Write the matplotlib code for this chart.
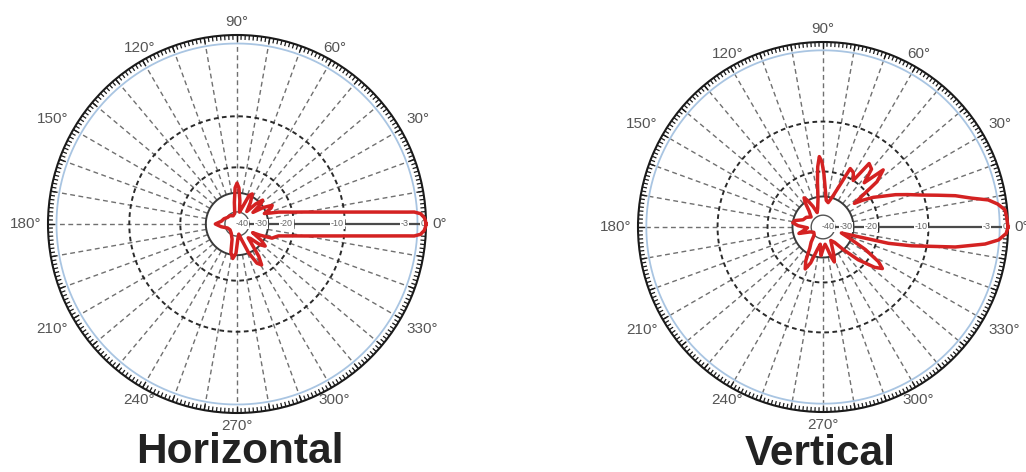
import numpy as np
import matplotlib
matplotlib.use("Agg")
import matplotlib.pyplot as plt

# ---------------- data (angles in degrees, levels in dB) ----------------
h_angles = [0, 1, 2, 3.2, 3.86, 4, 5, 6, 7, 8, 10, 12, 14, 16, 18,
            21, 25, 28, 32, 36, 40, 43, 47, 52, 58, 63, 67, 72, 78, 83, 87, 90, 93, 97, 102,
            115, 130, 145, 158, 170, 180, 190, 203, 220, 238, 252, 258, 263, 268, 274,
            280, 286, 292, 297, 301, 304, 309, 313, 318, 322, 326, 331, 334, 338, 341,
            344, 346, 348, 350, 352, 353, 354, 355, 356, 356.14, 356.8, 358, 359, 360]
h_db = [0, -0.1, -0.3, -0.9, -2.0, -3.15, -6.8, -9.3, -11.9, -14.3, -17.6, -19.9, -22.9, -25.3, -28.2,
        -31, -27.5, -26.6, -30, -36, -30, -28.5, -32, -38, -33, -29, -30, -37, -40, -34, -28, -26.2, -28, -35, -42,
        -45, -42, -41, -39, -38, -35, -38, -43, -45, -42, -38, -31, -28.6, -31, -39,
        -43, -38, -30, -25, -23.5, -27, -37, -36, -30, -28.2, -31, -37, -33, -27.4, -26.5,
        -25.3, -22.9, -19.9, -17.6, -14.3, -11.9, -9.3, -6.8, -3.15, -2.0, -0.9, -0.3, -0.1, 0]

v_angles = [0, 3, 5.4, 7.5, 9.3, 11, 13.3, 15.5, 18, 21, 24, 27, 30.5, 34, 37,
            40, 43.5, 47, 50, 54, 57, 61, 65, 68, 72, 78, 83, 86, 89, 91, 93, 95, 97, 100,
            106, 112, 116, 120, 123, 126, 131, 140, 150, 160, 167, 172, 177, 183, 190, 195,
            201, 210, 222, 232, 238, 243, 247, 251, 256, 261, 266, 271, 277, 282, 285, 288,
            291, 295, 300, 307, 312, 317, 322, 325, 328, 332, 337, 342,
            346, 348, 351.4, 354, 355.8, 358, 360]
v_db = [0, -0.2, -0.4, -1.6, -3.1, -4.9, -6.6, -8.5, -10.4, -13, -15.2, -17.5, -19.4, -23, -26.5,
        -17, -14.5, -19, -16, -15.4, -20, -18.6, -18.2, -24, -29, -33, -32, -28, -21, -18, -17, -19, -24, -31,
        -36, -38, -34, -30, -28.3, -30, -35, -38, -36, -35, -31, -30, -33, -38, -36, -33,
        -39, -42, -40, -36, -33, -27, -24, -27, -34, -37, -31, -35, -37, -34, -30, -27.5,
        -30, -35, -38, -36, -30, -23, -18, -16.6, -18, -23, -31, -36,
        -17.6, -13, -6.85, -3.6, -1.6, -0.3, 0]

angle_ticks = [0, 30, 60, 90, 120, 150, 180, 210, 240, 270, 300, 330]
angle_labels = ["0°", "30°", "60°", "90°", "120°", "150°", "180°",
                "210°", "240°", "270°", "300°", "330°"]
radial_labels = [-40, -30, -20, -10, -3, 0]
dashed_rings = [-10, -20]
solid_ring = -30
inner_ring = -40
ref_ring = -1.5

# radial scale of the chart (dB -> fraction of radius)
DB_KNOTS = [-60, -40, -30, -20, -10, -3, 0]
R_KNOTS = [0.0, 0.064, 0.165, 0.30, 0.57, 0.91, 1.0]


def fwd(d):
    return np.interp(d, DB_KNOTS, R_KNOTS)


def inv(r):
    return np.interp(r, R_KNOTS, DB_KNOTS)


RED = "#d42222"
BLUE = "#a9c5e2"
LABEL = "#555555"

plt.rcParams["font.family"] = ["Liberation Sans", "DejaVu Sans"]
fig = plt.figure(figsize=(10.26, 4.72), dpi=100)
W, H = 1026.0, 472.0


def draw(cx, cy, rad, ang, db):
    ax = fig.add_axes([(cx - rad) / W, (H - cy - rad) / H, 2 * rad / W, 2 * rad / H],
                      projection="polar")
    ax.set_rscale("function", functions=(fwd, inv))
    ax.set_ylim(-60, 0)
    ax.grid(False)
    ax.set_yticks([])
    ax.set_xticks([])
    ax.spines["polar"].set_linewidth(1.5)
    ax.spines["polar"].set_color("#1a1a1a")

    # angle labels just outside the ring
    gap = 4.5
    for a, lab in zip(angle_ticks, angle_labels):
        t = np.deg2rad(a)
        c, s = np.cos(t), np.sin(t)
        ha = "left" if c > 0.7 else ("right" if c < -0.7 else "center")
        va = "bottom" if s > 0.3 else ("top" if s < -0.3 else "center")
        ax.annotate(lab, xy=(t, 0), xytext=(gap * c, gap * s), textcoords="offset points",
                    ha=ha, va=va, fontsize=11, color=LABEL, annotation_clip=False)

    # tick comb on the outer ring
    minor = np.deg2rad(np.arange(0, 360, 1.25))
    major = np.deg2rad(np.arange(0, 360, 10))
    ax.vlines(minor, -0.85, 0, color="#1a1a1a", lw=0.9, zorder=2)
    ax.vlines(major, -1.2, 0, color="#1a1a1a", lw=1.0, zorder=2)

    th = np.linspace(0, 2 * np.pi, 721)
    ax.plot(th, np.full_like(th, ref_ring), color=BLUE, lw=1.3, zorder=2)
    for lv in dashed_rings:
        ax.plot(th, np.full_like(th, lv), color="#2a2a2a", lw=1.4,
                dashes=(2.4, 1.8), zorder=2)
    ax.plot(th, np.full_like(th, solid_ring), color="#3a3a3a", lw=1.4, zorder=2)
    ax.plot(th, np.full_like(th, inner_ring), color="#555555", lw=1.0, zorder=2)

    for a in range(10, 360, 10):
        ax.plot([np.deg2rad(a)] * 2, [solid_ring, ref_ring], color="#707070",
                lw=1.0, dashes=(3.5, 2.5), zorder=1)
    ax.plot([0, 0], [inner_ring, 0], color="#4a4a4a", lw=1.6, zorder=2)

    for v in radial_labels:
        ax.annotate(str(v), xy=(0, v), xytext=(-0.5, 0), textcoords="offset points",
                    ha="right", va="center", fontsize=6.5, color="#666666", zorder=3,
                    bbox=dict(fc="white", ec="none", pad=0.4))

    ax.plot(np.deg2rad(ang), db, color=RED, lw=2.5, zorder=5, clip_on=False,
            solid_joinstyle="round")
    return ax


draw(237, 224, 189, h_angles, h_db)
draw(823, 227, 185, v_angles, v_db)

fig.text(240 / W, 1 - 452 / H, "Horizontal", ha="center", va="center",
         fontsize=30.5, fontweight="bold", color="#222222")
fig.text(820 / W, 1 - 454 / H, "Vertical", ha="center", va="center",
         fontsize=30.5, fontweight="bold", color="#222222")

fig.savefig("out.png", dpi=100)
